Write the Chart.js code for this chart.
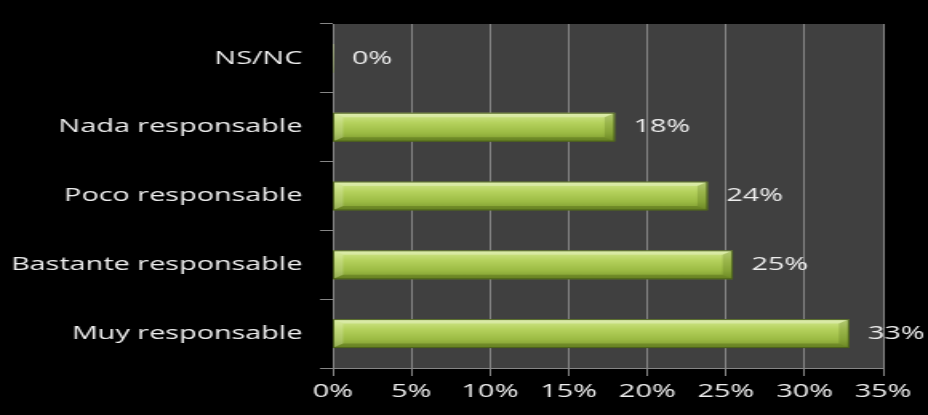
<!DOCTYPE html>
<html>
<head>
<meta charset="utf-8">
<script src="https://cdn.jsdelivr.net/npm/chart.js@4/dist/chart.umd.min.js"></script>
<style>
    html, body { margin: 0; padding: 0; background: #000; overflow: hidden; }
    canvas { display: block; }
</style>
</head>
<body>
<!-- the original image is stretched sideways, so draw narrow and stretch with css -->
<canvas id="chart" width="580" height="415" style="width:928px;height:415px"></canvas>
<script>
var categories = ['NS/NC', 'Nada responsable', 'Poco responsable', 'Bastante responsable', 'Muy responsable'];
var values = [0, 17.9, 23.8, 25.4, 32.8];
var valueLabels = ['0%', '18%', '24%', '25%', '33%'];
var xTicks = [0, 5, 10, 15, 20, 25, 30, 35];

var textColor = '#eeeeee';
var lineColor = '#868686';
var fontFamily = "'Open Sans', 'Liberation Sans', sans-serif";

// dark plot area behind the bars
const plotBackground = {
    id: 'plotBackground',
    beforeDraw(chart) {
        const a = chart.chartArea;
        const ctx = chart.ctx;
        ctx.save();
        ctx.fillStyle = '#404040';
        ctx.fillRect(a.left, a.top, a.right - a.left, a.bottom - a.top);
        ctx.restore();
    }
};

// bevel edges on the bars + value labels
const barExtras = {
    id: 'barExtras',
    afterDatasetsDraw(chart) {
        const ctx = chart.ctx;
        const meta = chart.getDatasetMeta(0);
        ctx.save();
        meta.data.forEach((el, i) => {
            const left = el.base, right = el.x;
            const top = el.y - el.height / 2, bottom = el.y + el.height / 2;
            const bx = 6, by = 4;
            if (right - left > bx * 2) {
                const poly = (pts, fill) => {
                    ctx.beginPath();
                    ctx.moveTo(pts[0][0], pts[0][1]);
                    for (let k = 1; k < pts.length; k++) ctx.lineTo(pts[k][0], pts[k][1]);
                    ctx.closePath();
                    ctx.fillStyle = fill;
                    ctx.fill();
                };
                poly([[left, top], [right, top], [right - bx, top + by], [left + bx, top + by]], 'rgba(255,255,255,0.28)');
                poly([[left, top], [left + bx, top + by], [left + bx, bottom - by], [left, bottom]], 'rgba(255,255,255,0.18)');
                poly([[left, bottom], [left + bx, bottom - by], [right - bx, bottom - by], [right, bottom]], 'rgba(40,60,0,0.25)');
                poly([[right, top], [right - bx, top + by], [right - bx, bottom - by], [right, bottom]], 'rgba(40,60,0,0.18)');
                ctx.strokeStyle = 'rgba(70,90,25,0.9)';
                ctx.lineWidth = 1;
                ctx.strokeRect(left, top, right - left, bottom - top);
            }
            ctx.fillStyle = textColor;
            ctx.font = '18px ' + fontFamily;
            ctx.textAlign = 'left';
            ctx.textBaseline = 'middle';
            ctx.fillText(valueLabels[i], right + 12, el.y);
        });
        ctx.restore();
    }
};

new Chart(document.getElementById('chart'), {
    type: 'bar',
    data: {
        labels: categories,
        datasets: [{
            data: values,
            barThickness: 28,
            borderWidth: 0,
            backgroundColor: (c) => {
                const chart = c.chart;
                const yScale = chart.scales.y;
                if (!yScale || c.dataIndex === undefined) return '#a4c34a';
                const y = yScale.getPixelForValue(c.dataIndex);
                if (!isFinite(y)) return '#a4c34a';
                const g = chart.ctx.createLinearGradient(0, y - 14, 0, y + 14);
                g.addColorStop(0, '#d2e88e');
                g.addColorStop(0.35, '#b4d15c');
                g.addColorStop(0.7, '#9cbb44');
                g.addColorStop(1, '#7b982d');
                return g;
            }
        }]
    },
    options: {
        indexAxis: 'y',
        responsive: false,
        animation: false,
        layout: { padding: { top: 24, right: 28, left: 0, bottom: 0 } },
        plugins: {
            legend: { display: false },
            tooltip: { enabled: false }
        },
        scales: {
            x: {
                min: 0,
                max: 35,
                afterFit: (s) => { s.height = 47; },
                afterBuildTicks: (s) => { s.ticks = xTicks.map(v => ({ value: v })); },
                grid: { color: lineColor, lineWidth: 1, tickLength: 8, tickColor: lineColor },
                border: { color: lineColor, width: 1 },
                ticks: {
                    padding: 5,
                    color: textColor,
                    font: { family: fontFamily, size: 18 },
                    maxRotation: 0,
                    callback: (v) => v + '%'
                }
            },
            y: {
                afterFit: (s) => { s.width = 208; },
                grid: { drawOnChartArea: false, tickLength: 8, tickColor: lineColor },
                border: { color: lineColor, width: 1 },
                ticks: {
                    padding: 11,
                    color: textColor,
                    font: { family: fontFamily, size: 18 }
                }
            }
        }
    },
    plugins: [plotBackground, barExtras]
});
</script>
</body>
</html>
